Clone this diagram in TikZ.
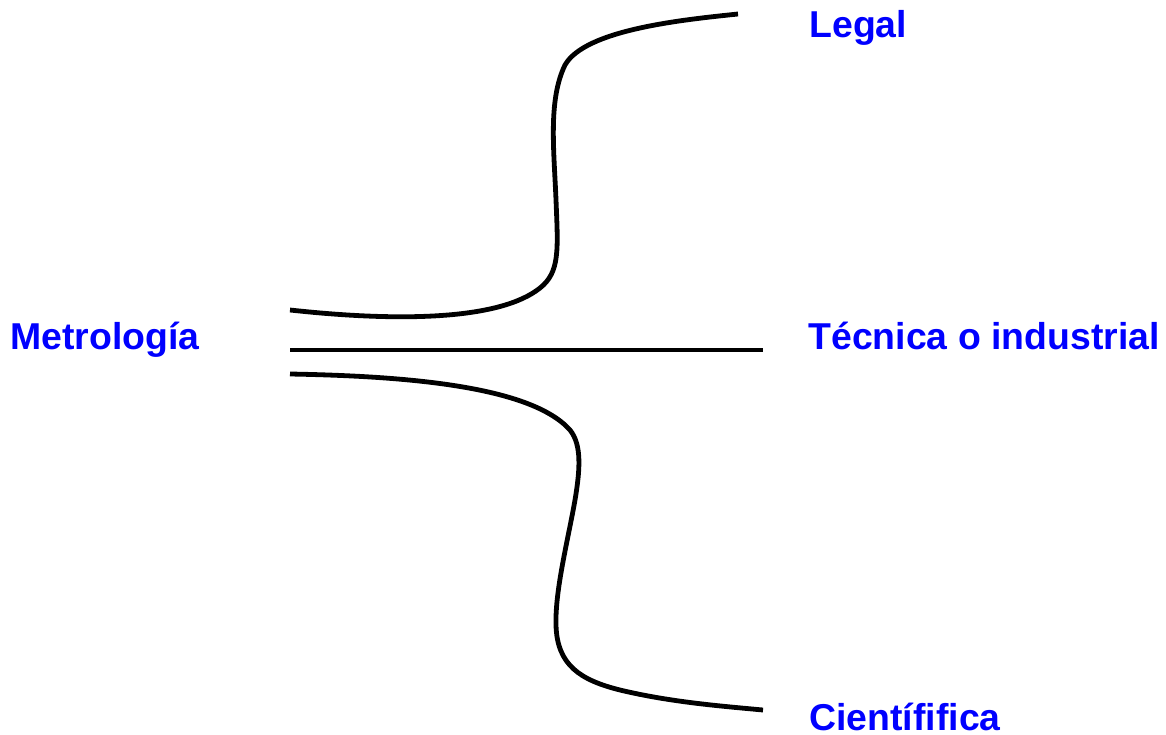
\documentclass[tikz,border=0pt]{standalone}
\usepackage{fontspec}
\setmainfont{Liberation Sans}
\begin{document}
\begin{tikzpicture}[x=0.5pt,y=-0.5pt,
  lbl/.style={anchor=base west,inner sep=0pt,text=blue,font=\fontsize{18.7}{22}\selectfont\bfseries},
  branch/.style={line width=2.4pt,black}]
\useasboundingbox (0,0) rectangle (1166,734);
\node[lbl] (met) at (10,349) {Metrología};
\node[lbl] (leg) at (809,37) {Legal};
\node[lbl] (tec) at (808,349) {Técnica o industrial};
\node[lbl] (cie) at (809,730) {Científifica};
\coordinate (ua) at (290,310);
\coordinate (ub) at (540,288);
\coordinate (uc) at (556,200);
\coordinate (ud) at (565,65);
\coordinate (ue) at (738,14);
\coordinate (ma) at (290,350);
\coordinate (mb) at (763,350);
\coordinate (la) at (290,374);
\coordinate (lb) at (570,430);
\coordinate (lc) at (575,500);
\coordinate (ld) at (556,625);
\coordinate (le) at (620,690);
\coordinate (lf) at (763,710);
\draw[branch] (ua) .. controls (400,322) and (500,320) .. (ub)
  .. controls (560,272) and (558,250) .. (uc)
  .. controls (554,150) and (548,100) .. (ud)
  .. controls (585,30) and (680,20) .. (ue);
\draw[branch] (ma) -- (mb);
\draw[branch] (la) .. controls (400,376) and (530,385) .. (lb)
  .. controls (582,445) and (580,470) .. (lc)
  .. controls (568,540) and (555,590) .. (ld)
  .. controls (557,665) and (580,680) .. (le)
  .. controls (670,702) and (720,706) .. (lf);
\end{tikzpicture}
\end{document}
